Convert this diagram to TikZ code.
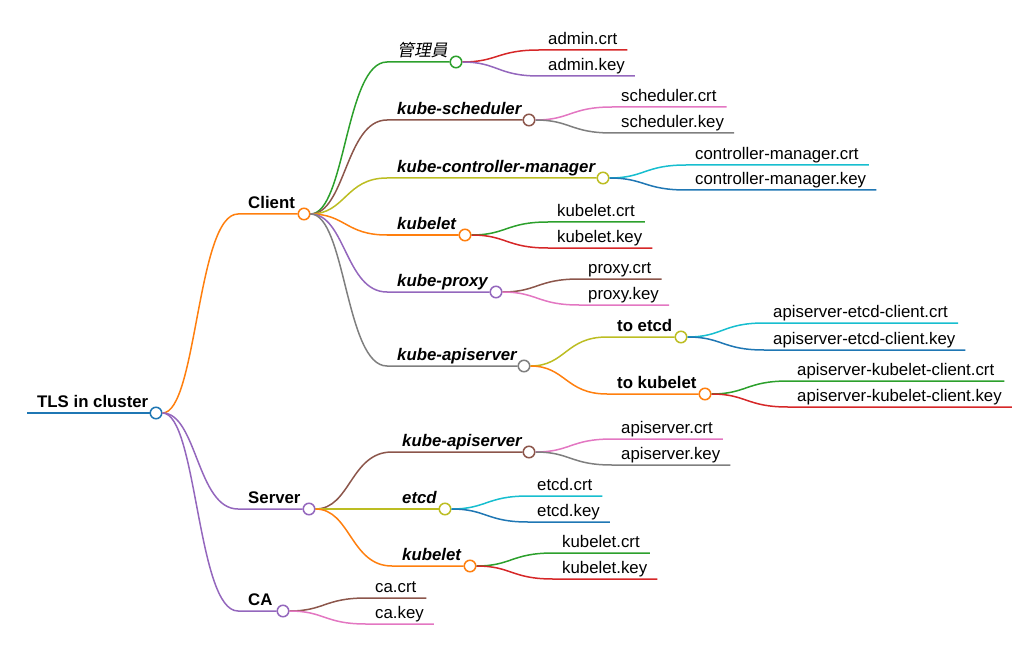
\documentclass[tikz,border=0pt]{standalone}
\usepackage{fontspec}
\setmainfont{Liberation Sans}
\newfontfamily\cjkfont[FakeSlant=0.2]{Noto Sans CJK TC}
\usetikzlibrary{positioning, calc}

\definecolor{mmblue}{HTML}{1F77B4}
\definecolor{mmorange}{HTML}{FF7F0E}
\definecolor{mmgreen}{HTML}{2CA02C}
\definecolor{mmred}{HTML}{D62728}
\definecolor{mmpurple}{HTML}{9467BD}
\definecolor{mmbrown}{HTML}{8C564B}
\definecolor{mmpink}{HTML}{E377C2}
\definecolor{mmgray}{HTML}{7F7F7F}
\definecolor{mmolive}{HTML}{BCBD22}
\definecolor{mmcyan}{HTML}{17BECF}

\tikzset{
  leaf/.style={font=\fontsize{16.8}{20}\selectfont, inner sep=0pt, anchor=base west},
  topic/.style={leaf, font=\fontsize{16.8}{20}\selectfont\bfseries},
  comp/.style={leaf, font=\fontsize{16.8}{20}\selectfont\bfseries\itshape},
  hub/.style={circle, draw=#1, fill=white, line width=1.5pt, minimum size=11.5pt, inner sep=0pt},
  link/.style={draw=#1, line width=1.5pt,
    to path={.. controls ($(\tikztostart)!0.5!(\tikztostart -| \tikztotarget)$)
      and ($(\tikztotarget)!0.5!(\tikztotarget -| \tikztostart)$) .. (\tikztotarget)}},
}

\begin{document}
\begin{tikzpicture}[x=1pt, y=-1pt]
  \useasboundingbox (0,0) rectangle (1024,660);

  % root
  \coordinate (root-s) at (27,413);
  \node[hub=mmblue] (root) at (156,413) {};
  \node[topic] (root-t) at ([shift={(10,-5.5)}]root-s) {TLS in cluster};
  \draw[link=mmblue] (root-s) -- (root);

  % first level
  \foreach \n/\xc/\y/\c/\t in {cli/304/214/mmorange/Client, srv/309/509/mmpurple/Server, ca/283/611/mmpurple/CA}{
    \coordinate (\n-s) at (238,\y);
    \node[hub=\c] (\n) at (\xc,\y) {};
    \node[topic] (\n-t) at ([shift={(10,-5.5)}]\n-s) {\t};
    \draw[link=\c] (root) to (\n-s) -- (\n);
  }

  % components
  \foreach \p/\n/\xs/\xc/\y/\c/\t in {
      cli/adm/387/456/62/mmgreen/{\mdseries\upshape\cjkfont 管理員},
      cli/sch/387/529/120/mmbrown/kube-scheduler,
      cli/ctl/387/603/178/mmolive/kube-controller-manager,
      cli/klt/387/465/235/mmorange/kubelet,
      cli/prx/387/496/292/mmpurple/kube-proxy,
      cli/api/387/524/366/mmgray/kube-apiserver,
      srv/sapi/392/529/452/mmbrown/kube-apiserver,
      srv/setc/392/445/509/mmolive/etcd,
      srv/sklt/392/470/566/mmorange/kubelet}{
    \coordinate (\n-s) at (\xs,\y);
    \node[hub=\c] (\n) at (\xc,\y) {};
    \node[comp] (\n-t) at ([shift={(10,-5.5)}]\n-s) {\t};
    \draw[link=\c] (\p) to (\n-s) -- (\n);
  }

  % apiserver targets
  \foreach \n/\xc/\y/\c/\t in {toe/681/337/mmolive/to etcd, tok/705/394/mmorange/to kubelet}{
    \coordinate (\n-s) at (607,\y);
    \node[hub=\c] (\n) at (\xc,\y) {};
    \node[topic] (\n-t) at ([shift={(10,-5.5)}]\n-s) {\t};
    \draw[link=\c] (api) to (\n-s) -- (\n);
  }

  % certificate files
  \foreach \p/\n/\xs/\y/\c/\t in {
      adm/f1/539/50/mmred/admin.crt, adm/f2/539/76/mmpurple/admin.key,
      sch/f3/612/107/mmpink/scheduler.crt, sch/f4/612/133/mmgray/scheduler.key,
      ctl/f5/686/165/mmcyan/controller-manager.crt, ctl/f6/686/190/mmblue/controller-manager.key,
      klt/f7/548/222/mmgreen/kubelet.crt, klt/f8/548/248/mmred/kubelet.key,
      prx/f9/579/279/mmbrown/proxy.crt, prx/f10/579/305/mmpink/proxy.key,
      toe/f11/764/323/mmcyan/apiserver-etcd-client.crt, toe/f12/764/350/mmblue/apiserver-etcd-client.key,
      tok/f13/788/381/mmgreen/apiserver-kubelet-client.crt, tok/f14/788/407/mmred/apiserver-kubelet-client.key,
      sapi/f15/612/439/mmpink/apiserver.crt, sapi/f16/612/465/mmgray/apiserver.key,
      setc/f17/528/496/mmcyan/etcd.crt, setc/f18/528/522/mmblue/etcd.key,
      sklt/f19/553/553/mmgreen/kubelet.crt, sklt/f20/553/579/mmred/kubelet.key,
      ca/f21/366/598/mmbrown/ca.crt, ca/f22/366/624/mmpink/ca.key}{
    \coordinate (\n-s) at (\xs,\y);
    \node[leaf] (\n) at ([shift={(9,-5.5)}]\n-s) {\t};
    \draw[link=\c] (\p) to (\n-s) -- ($(\n-s -| \n.east)+(10,0)$);
  }
\end{tikzpicture}
\end{document}
